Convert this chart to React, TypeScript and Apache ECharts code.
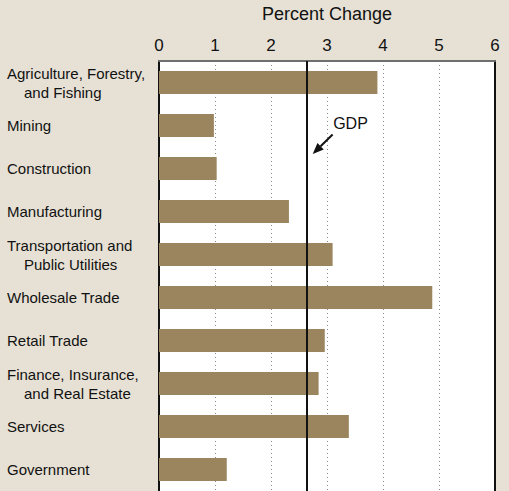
import React, { useEffect, useRef } from "react";
import * as echarts from "echarts";

const categories = [
  "Agriculture, Forestry,\nand Fishing",
  "Mining",
  "Construction",
  "Manufacturing",
  "Transportation and\nPublic Utilities",
  "Wholesale Trade",
  "Retail Trade",
  "Finance, Insurance,\nand Real Estate",
  "Services",
  "Government",
];
const values = [3.9, 0.98, 1.03, 2.32, 3.1, 4.88, 2.96, 2.85, 3.39, 1.21];
const gdpValue = 2.63;
const axisTitle = "Percent Change";
const gdpLabel = "GDP";
// annotation anchors in data space: [x value, fractional category index]
const gdpLabelAt = [3.11, 0.96];
const arrowTail = [3.1, 1.21];
const arrowHead = [2.745, 1.66];

const BG = "#e7e1d5";
const BAR = "#9b855f";
const LABEL_FONT = "'Liberation Sans', Arial, sans-serif";
const FONT = "'Liberation Sans', Arial, sans-serif";

export default function App() {
  const ref = useRef<HTMLDivElement>(null);
  useEffect(() => {
    if (!ref.current) return;
    const chart = echarts.init(ref.current, undefined, { renderer: "svg" });
    const option: any = {
      animation: false,
      backgroundColor: BG,
      grid: {
        left: 159,
        top: 61,
        width: 336,
        height: 433,
        show: true,
        backgroundColor: "#ffffff",
        borderWidth: 0,
      },
      xAxis: {
        type: "value",
        position: "top",
        min: 0,
        max: 6,
        interval: 1,
        name: axisTitle,
        nameLocation: "middle",
        nameGap: 38,
        nameTextStyle: { fontFamily: FONT, fontSize: 18, color: "#111" },
        axisLine: { show: true, lineStyle: { color: "#6e6e6e", width: 2 } },
        axisTick: { show: false },
        axisLabel: { fontFamily: FONT, fontSize: 17, color: "#111", margin: 7 },
        splitLine: { show: true, lineStyle: { color: "#8a8a8a", type: [1, 3], width: 1 } },
      },
      yAxis: [
        {
          type: "category",
          inverse: true,
          data: categories,
          axisLine: { show: true, lineStyle: { color: "#111", width: 2 } },
          axisTick: { show: false },
          splitLine: { show: false },
          axisLabel: {
            align: "left",
            margin: 152,
            formatter: (v: string) =>
              v
                .split("\n")
                .map((s, i) => (i === 0 ? `{a|${s}}` : `{b|${s}}`))
                .join("\n"),
            rich: {
              a: { fontFamily: LABEL_FONT, fontSize: 15, color: "#111", lineHeight: 19 },
              b: {
                fontFamily: LABEL_FONT,
                fontSize: 15,
                color: "#111",
                lineHeight: 19,
                padding: [0, 0, 0, 17],
              },
            },
          },
        },
        {
          type: "category",
          inverse: true,
          position: "right",
          data: categories,
          axisLine: { show: true, lineStyle: { color: "#111", width: 2 } },
          axisTick: { show: false },
          axisLabel: { show: false },
          splitLine: { show: false },
        },
      ],
      series: [
        {
          type: "bar",
          data: values,
          barWidth: 23,
          itemStyle: { color: BAR },
          markLine: {
            silent: true,
            symbol: "none",
            label: { show: false },
            lineStyle: { color: "#111", width: 2, type: "solid" },
            data: [{ xAxis: gdpValue }],
          },
        },
      ],
    };
    chart.setOption(option);

    const toPx = (p: number[]) => {
      const x = chart.convertToPixel({ xAxisIndex: 0 }, p[0]) as number;
      const y0 = chart.convertToPixel({ yAxisIndex: 0 }, categories[0]) as number;
      const y1 = chart.convertToPixel({ yAxisIndex: 0 }, categories[1]) as number;
      return [x, y0 + (y1 - y0) * p[1]];
    };
    const t = toPx(arrowTail);
    const h = toPx(arrowHead);
    const l = toPx(gdpLabelAt);
    const dx = h[0] - t[0];
    const dy = h[1] - t[1];
    const len = Math.sqrt(dx * dx + dy * dy);
    const ux = dx / len;
    const uy = dy / len;
    const headLen = 11;
    const headHalf = 4.5;
    const bx = h[0] - ux * headLen;
    const by = h[1] - uy * headLen;
    chart.setOption({
      graphic: [
        {
          type: "line",
          shape: { x1: t[0], y1: t[1], x2: bx, y2: by },
          style: { stroke: "#111", lineWidth: 2 },
          z: 100,
        },
        {
          type: "polygon",
          shape: {
            points: [
              [h[0], h[1]],
              [bx - uy * headHalf, by + ux * headHalf],
              [bx + uy * headHalf, by - ux * headHalf],
            ],
          },
          style: { fill: "#111" },
          z: 100,
        },
        {
          type: "text",
          x: l[0],
          y: l[1],
          style: {
            text: gdpLabel,
            fontFamily: FONT,
            fontSize: 16,
            fill: "#111",
            verticalAlign: "middle",
            align: "left",
          },
          z: 100,
        },
      ],
    });
    return () => chart.dispose();
  }, []);
  return (
    <div
      ref={ref}
      style={{ position: "absolute", left: 0, top: 0, width: 509, height: 491, overflow: "hidden" }}
    />
  );
}
